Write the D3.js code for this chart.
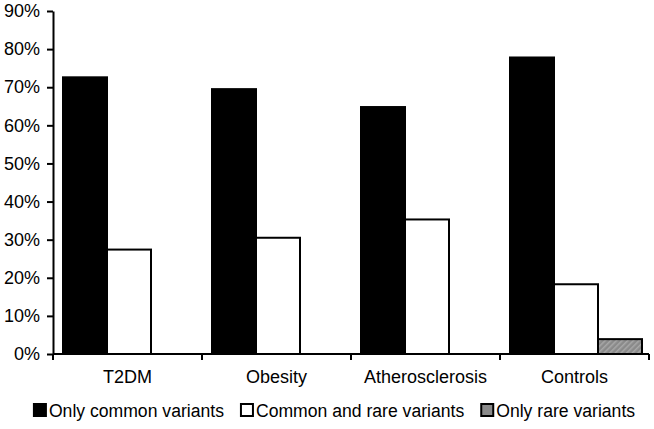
<!DOCTYPE html>
<html><head><meta charset="utf-8">
<script src="https://cdn.jsdelivr.net/npm/d3@7"></script>
<style>body{margin:0;background:#fff}svg{display:block}text{font-family:"Liberation Sans",Arial,sans-serif;fill:#000}</style>
</head><body><svg id="c" width="654" height="429"></svg>
<script>
const categories = ["T2DM", "Obesity", "Atherosclerosis", "Controls"];
const seriesNames = ["Only common variants", "Common and rare variants", "Only rare variants"];
const onlyCommon = [0.726, 0.695, 0.648, 0.778];
const commonAndRare = [0.274, 0.305, 0.353, 0.183];
const onlyRare = [0, 0, 0, 0.039];
const yTicks = [0, 0.1, 0.2, 0.3, 0.4, 0.5, 0.6, 0.7, 0.8, 0.9];

const series = [onlyCommon, commonAndRare, onlyRare];
const fills = ["#000", "#fff", "url(#hatch)"];

const svg = d3.select("#c");
const defs = svg.append("defs");
const pat = defs.append("pattern").attr("id","hatch").attr("patternUnits","userSpaceOnUse")
  .attr("width",4).attr("height",4).attr("patternTransform","rotate(45)");
pat.append("rect").attr("width",4).attr("height",4).attr("fill","#8a8a8a");
pat.append("rect").attr("width",1.5).attr("height",4).attr("fill","#a8a8a8");

const mLeft = 53, mRight = 649, mTop = 11, mBottom = 354;
const x = d3.scaleBand().domain(categories).range([mLeft, mRight]).paddingInner(0).paddingOuter(0);
const y = d3.scaleLinear().domain([0, 0.9]).range([mBottom, mTop]);
const inner = d3.scaleBand().domain(d3.range(3)).range([10, x.bandwidth() - 7]).padding(0);

// bars
series.forEach((vals, si) => {
  svg.append("g").selectAll("rect").data(categories.map((c,i)=>({c, v: vals[i]})).filter(d=>d.v>0))
    .join("rect")
    .attr("x", d => x(d.c) + inner(si))
    .attr("y", d => y(d.v))
    .attr("width", inner.bandwidth())
    .attr("height", d => mBottom - y(d.v))
    .attr("fill", fills[si])
    .attr("stroke", "#000").attr("stroke-width", 2);
});

// y axis
const yAxis = d3.axisLeft(y).tickValues(yTicks).tickFormat(d3.format(".0%")).tickSize(6).tickSizeOuter(0);
const gy = svg.append("g").attr("transform", `translate(${mLeft},0)`).call(yAxis);
gy.select(".domain").attr("stroke","#000").attr("stroke-width",2);
gy.selectAll(".tick line").attr("stroke","#000").attr("stroke-width",2);
gy.selectAll(".tick text").attr("x",-13).attr("font-size",18).attr("font-family","Liberation Sans, Arial, sans-serif").attr("fill","#000");

// x axis
const gx = svg.append("g").attr("transform", `translate(0,${mBottom})`);
gx.append("line").attr("x1", mLeft).attr("x2", mRight).attr("stroke","#000").attr("stroke-width",2);
const bounds = categories.map(c => x(c)).concat([mRight]);
gx.selectAll("line.t").data(bounds).join("line").attr("class","t")
  .attr("x1", d=>d).attr("x2", d=>d).attr("y1",0).attr("y2",6).attr("stroke","#000").attr("stroke-width",2);
gx.selectAll("text").data(categories).join("text")
  .attr("x", d => x(d) + x.bandwidth()/2).attr("y", 29)
  .attr("text-anchor","middle").attr("font-size",18).text(d=>d);

// legend
const leg = svg.append("g");
let cx = 0;
seriesNames.forEach((name, i) => {
  const g = leg.append("g");
  g.append("rect").attr("x", 1).attr("y", -6).attr("width", 12).attr("height", 12)
    .attr("fill", i===2 ? "#8a8a8a" : fills[i]).attr("stroke","#000").attr("stroke-width",2);
  const t = g.append("text").attr("x", 16).attr("y", 6.5).attr("font-size",17.6).text(name);
  const w = 16 + t.node().getComputedTextLength();
  g.attr("transform", `translate(${cx},0)`);
  cx += w + 16;
});
const total = cx - 16;
leg.attr("transform", `translate(${334 - total/2},410)`);
</script></body></html>
